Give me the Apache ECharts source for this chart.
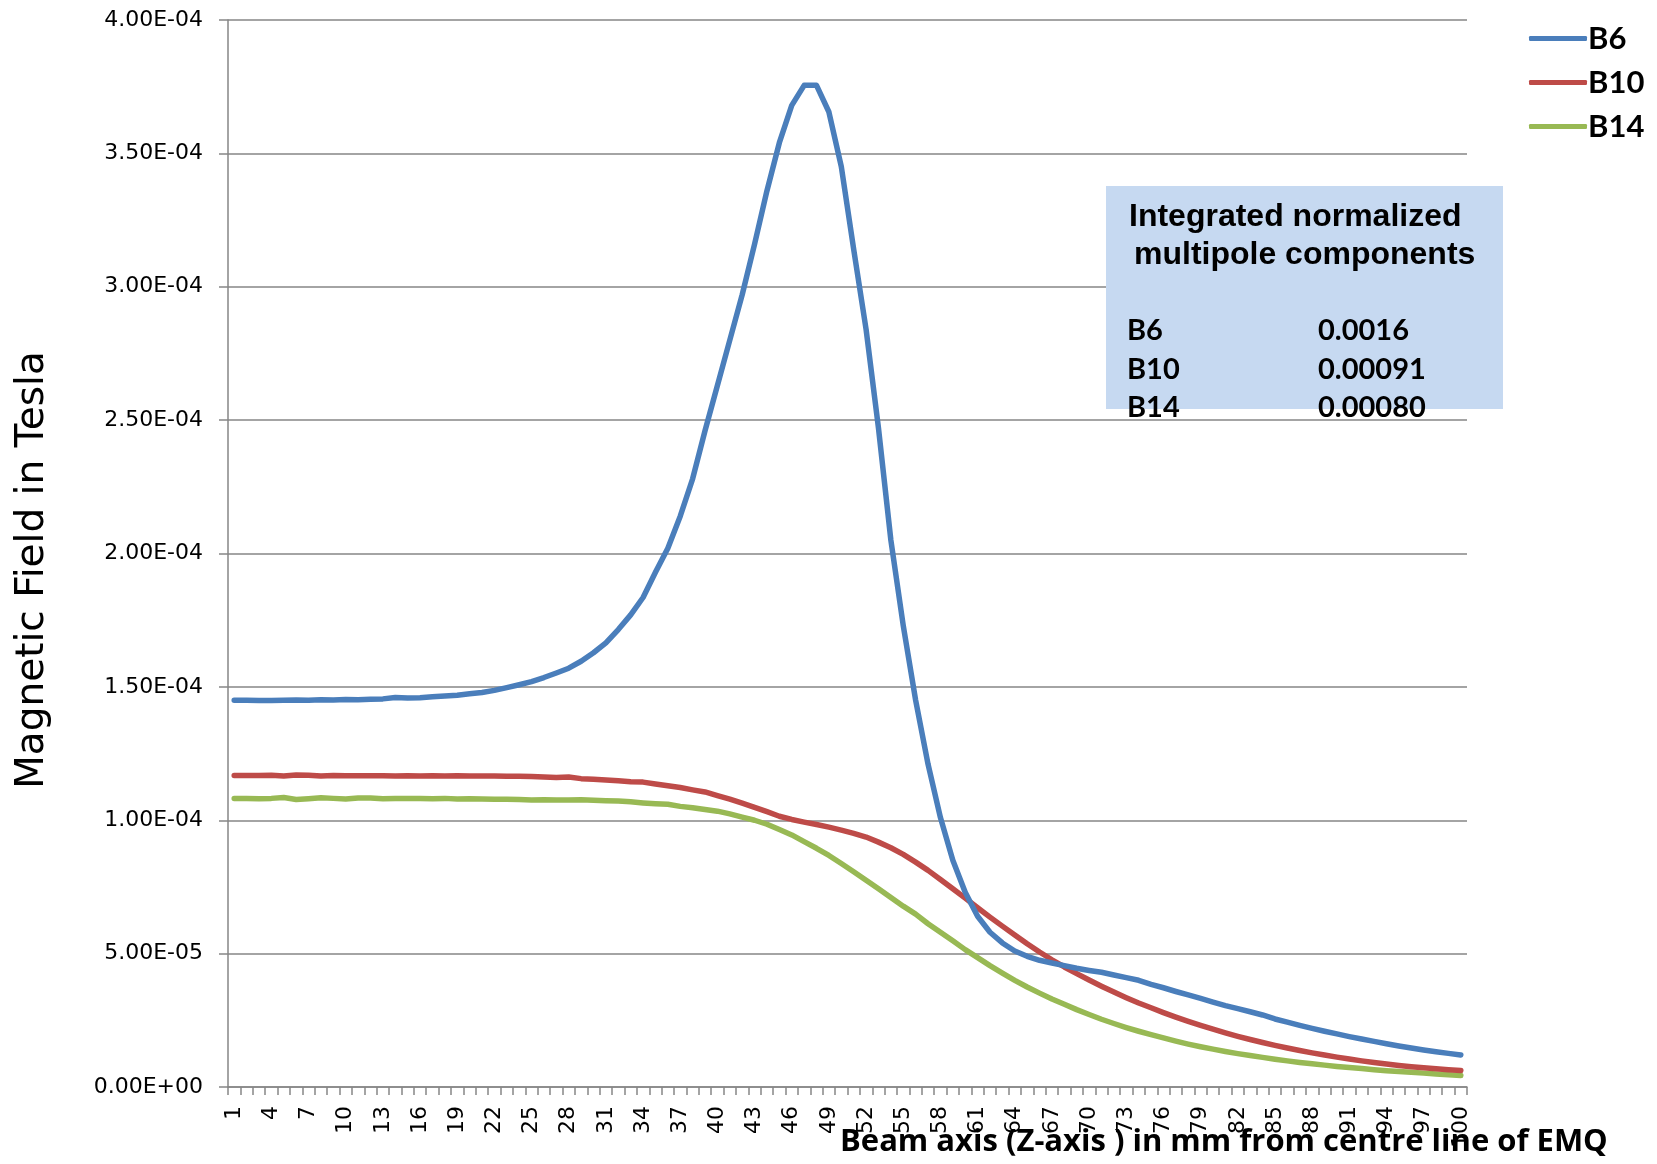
<!DOCTYPE html>
<html>
<head>
<meta charset="utf-8">
<script src="https://cdn.jsdelivr.net/npm/echarts@6.0.0/dist/echarts.min.js"></script>
<style>
  html, body { margin: 0; padding: 0; background: #fff; }
  #chart { width: 1657px; height: 1164px; }
</style>
</head>
<body>
<div id="chart"></div>
<script>
// distance along the beam axis, mm
const positions = [
  '1', '2', '3', '4', '5', '6', '7', '8', '9', '10',
  '11', '12', '13', '14', '15', '16', '17', '18', '19', '20',
  '21', '22', '23', '24', '25', '26', '27', '28', '29', '30',
  '31', '32', '33', '34', '35', '36', '37', '38', '39', '40',
  '41', '42', '43', '44', '45', '46', '47', '48', '49', '50',
  '51', '52', '53', '54', '55', '56', '57', '58', '59', '60',
  '61', '62', '63', '64', '65', '66', '67', '68', '69', '70',
  '71', '72', '73', '74', '75', '76', '77', '78', '79', '80',
  '81', '82', '83', '84', '85', '86', '87', '88', '89', '90',
  '91', '92', '93', '94', '95', '96', '97', '98', '99', '100'
]

// field values, in units of 1e-4 T
const b6 = [
  1.450, 1.450, 1.449, 1.449, 1.450, 1.451, 1.450, 1.452, 1.451, 1.453,
  1.452, 1.454, 1.455, 1.460, 1.458, 1.459, 1.463, 1.466, 1.469, 1.474,
  1.479, 1.487, 1.497, 1.508, 1.520, 1.535, 1.552, 1.570, 1.596, 1.628,
  1.665, 1.715, 1.770, 1.835, 1.930, 2.020, 2.140, 2.280, 2.460, 2.630,
  2.800, 2.970, 3.160, 3.360, 3.540, 3.680, 3.755, 3.755, 3.655, 3.450,
  3.140, 2.840, 2.470, 2.050, 1.730, 1.450, 1.210, 1.010, 0.850, 0.730,
  0.640, 0.580, 0.540, 0.510, 0.490, 0.475, 0.465, 0.455, 0.445, 0.437,
  0.430, 0.420, 0.410, 0.400, 0.385, 0.372, 0.358, 0.345, 0.332, 0.318,
  0.305, 0.294, 0.282, 0.270, 0.255, 0.243, 0.231, 0.220, 0.209, 0.199,
  0.189, 0.180, 0.171, 0.162, 0.154, 0.146, 0.139, 0.132, 0.126, 0.120
]
const b10 = [
  1.168, 1.168, 1.168, 1.169, 1.166, 1.170, 1.169, 1.166, 1.168, 1.167,
  1.167, 1.167, 1.167, 1.166, 1.167, 1.166, 1.167, 1.166, 1.167, 1.166,
  1.166, 1.166, 1.165, 1.165, 1.164, 1.162, 1.160, 1.162, 1.156, 1.154,
  1.151, 1.148, 1.144, 1.143, 1.136, 1.129, 1.123, 1.114, 1.106, 1.092,
  1.079, 1.064, 1.048, 1.032, 1.015, 1.003, 0.993, 0.984, 0.974, 0.963,
  0.951, 0.937, 0.918, 0.897, 0.872, 0.843, 0.812, 0.778, 0.743, 0.708,
  0.672, 0.637, 0.603, 0.570, 0.537, 0.506, 0.477, 0.450, 0.425, 0.401,
  0.378, 0.356, 0.335, 0.315, 0.297, 0.279, 0.262, 0.246, 0.231, 0.217,
  0.203, 0.190, 0.178, 0.167, 0.156, 0.146, 0.137, 0.128, 0.120, 0.112,
  0.105, 0.098, 0.092, 0.086, 0.081, 0.076, 0.072, 0.068, 0.065, 0.062
]
const b14 = [
  1.082, 1.082, 1.081, 1.082, 1.085, 1.078, 1.081, 1.084, 1.082, 1.080,
  1.083, 1.083, 1.081, 1.082, 1.082, 1.082, 1.081, 1.082, 1.080, 1.081,
  1.080, 1.079, 1.079, 1.078, 1.076, 1.077, 1.076, 1.076, 1.077, 1.075,
  1.073, 1.072, 1.069, 1.065, 1.062, 1.060, 1.052, 1.047, 1.040, 1.034,
  1.024, 1.012, 1.000, 0.985, 0.965, 0.945, 0.920, 0.895, 0.868, 0.838,
  0.807, 0.775, 0.743, 0.710, 0.678, 0.648, 0.612, 0.580, 0.548, 0.515,
  0.485, 0.455, 0.427, 0.400, 0.375, 0.352, 0.330, 0.310, 0.290, 0.272,
  0.254, 0.238, 0.223, 0.209, 0.196, 0.184, 0.172, 0.161, 0.151, 0.142,
  0.133, 0.125, 0.118, 0.111, 0.104, 0.098, 0.092, 0.087, 0.082, 0.077,
  0.073, 0.069, 0.065, 0.061, 0.058, 0.055, 0.052, 0.049, 0.046, 0.043
]

const seriesNames = ['B6', 'B10', 'B14']
const seriesColors = ['#4a7ebb', '#be4b48', '#98b954']

// integrated normalized multipole components (text box)
const integNames = ['B6', 'B10', 'B14']
const integValues = ['0.0016', '0.00091', '0.00080']

const gridColor = '#868686'
const tickFont = '"DejaVu Sans", sans-serif'
const boldFont = 'Lato, "Liberation Sans", sans-serif'

// 4.00E-04 style labels (axis runs in units of 1e-4)
function sci(v) {
  if (v === 0) return '0.00E+00'
  const parts = (v * 1e-4).toExponential(2).split('e')
  const exp = Number(parts[1])
  const sign = exp < 0 ? '-' : '+'
  return parts[0] + 'E' + sign + String(Math.abs(exp)).padStart(2, '0')
}

const chart = echarts.init(document.getElementById('chart'))

const series = [b6, b10, b14].map((vals, i) => ({
  name: seriesNames[i],
  type: 'line',
  data: vals,
  symbol: 'none',
  smooth: false,
  lineStyle: { color: seriesColors[i], width: 5.5, cap: 'round', join: 'round' },
  itemStyle: { color: seriesColors[i] },
  z: 3 - i
}))

const graphic = [
  {
    type: 'text',
    z: 100,
    x: 33,
    y: 570,
    rotation: Math.PI / 2,
    style: {
      text: 'Magnetic Field in Tesla',
      font: '39px "DejaVu Sans", sans-serif',
      fill: '#000',
      align: 'center',
      verticalAlign: 'middle'
    }
  },
  {
    type: 'text',
    z: 100,
    x: 840,
    y: 1142,
    style: {
      text: 'Beam axis (Z-axis ) in mm from centre line of EMQ',
      font: 'bold 31px "Open Sans", sans-serif',
      fill: '#000',
      align: 'left',
      verticalAlign: 'middle'
    }
  },
  {
    type: 'rect',
    z: 90,
    shape: { x: 1106, y: 186, width: 397, height: 223 },
    style: { fill: '#c6d9f1' }
  },
  {
    type: 'text',
    z: 100,
    x: 1129,
    y: 217,
    style: {
      text: 'Integrated normalized',
      font: 'bold 32px "Liberation Sans", Arial, sans-serif',
      fill: '#000',
      verticalAlign: 'middle'
    }
  },
  {
    type: 'text',
    z: 100,
    x: 1134,
    y: 255,
    style: {
      text: 'multipole components',
      font: 'bold 32px "Liberation Sans", Arial, sans-serif',
      fill: '#000',
      verticalAlign: 'middle'
    }
  }
]
integNames.forEach((n, i) => {
  graphic.push({
    type: 'text',
    z: 100,
    x: 1127,
    y: 331 + i * 38.5,
    style: { text: n, font: 'bold 29px ' + boldFont, fill: '#000', verticalAlign: 'middle' }
  })
  graphic.push({
    type: 'text',
    z: 100,
    x: 1318,
    y: 331 + i * 38.5,
    style: { text: integValues[i], font: 'bold 29px ' + boldFont, fill: '#000', verticalAlign: 'middle' }
  })
})

chart.setOption({
  animation: false,
  backgroundColor: '#fff',
  grid: { left: 228, right: 190, top: 20, bottom: 77, containLabel: false },
  legend: {
    data: seriesNames,
    orient: 'vertical',
    left: 1524,
    top: 18,
    icon: 'roundRect',
    itemWidth: 58,
    itemHeight: 5,
    itemGap: 13,
    textStyle: {
      fontFamily: boldFont,
      fontWeight: 'bold',
      fontSize: 31,
      lineHeight: 31,
      color: '#000',
      padding: [0, 0, 0, -4]
    }
  },
  xAxis: {
    type: 'category',
    data: positions,
    boundaryGap: true,
    axisLine: { lineStyle: { color: gridColor, width: 1.5 } },
    axisTick: { show: true, interval: 0, length: 8, lineStyle: { color: gridColor, width: 1.5 } },
    axisLabel: {
      interval: 2,
      rotate: 90,
      margin: 19,
      fontFamily: tickFont,
      fontSize: 22,
      color: '#000'
    },
    splitLine: { show: false }
  },
  yAxis: {
    type: 'value',
    min: 0,
    max: 4,
    interval: 0.5,
    axisLine: { show: true, lineStyle: { color: gridColor, width: 1.5 } },
    axisTick: { show: true, length: 9, lineStyle: { color: gridColor, width: 1.5 } },
    axisLabel: {
      margin: 25,
      fontFamily: tickFont,
      fontSize: 22,
      color: '#000',
      formatter: sci
    },
    splitLine: { lineStyle: { color: gridColor, width: 1.5 } }
  },
  series,
  graphic
})
</script>
</body>
</html>
